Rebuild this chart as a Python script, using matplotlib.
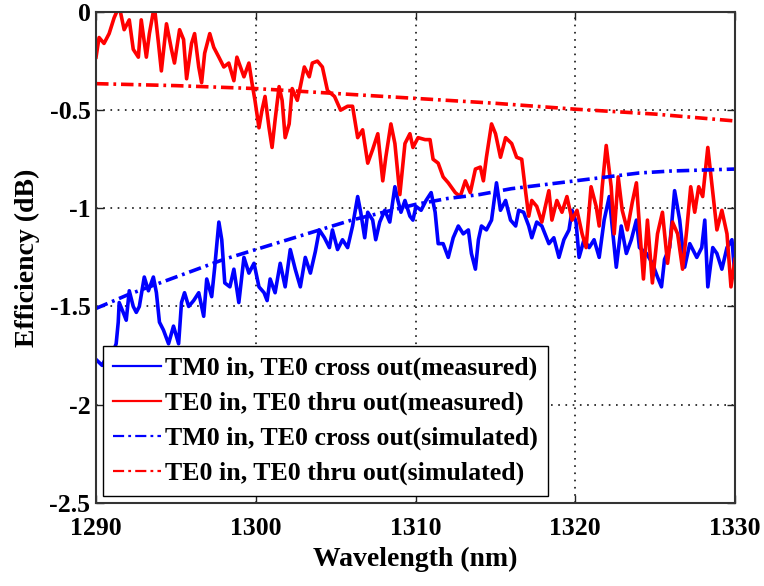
import numpy as np
import matplotlib
matplotlib.use('Agg')
import matplotlib.pyplot as plt

# measured, TE0 in -> TE0 thru out
wl_thru = [1290.0, 1290.19, 1290.5, 1290.82, 1291.13, 1291.45, 1291.76, 1292.08, 1292.33, 1292.65,
           1292.83, 1293.15, 1293.34, 1293.65, 1293.91, 1294.09, 1294.41, 1294.72, 1294.91, 1295.23,
           1295.48, 1295.67, 1295.98, 1296.17, 1296.43, 1296.61, 1296.8, 1297.12, 1297.37, 1297.69,
           1298.0, 1298.31, 1298.63, 1298.82, 1299.26, 1299.57, 1299.76, 1299.95, 1300.2, 1300.39,
           1300.58, 1300.83, 1301.02, 1301.21, 1301.46, 1301.65, 1301.84, 1302.09, 1302.28, 1302.6,
           1302.79, 1303.04, 1303.35, 1303.54, 1303.86, 1304.17, 1304.49, 1304.93, 1305.31, 1305.75,
           1306.06, 1306.38, 1306.69, 1307.01, 1307.32, 1307.64, 1307.95, 1308.14, 1308.46, 1308.71,
           1309.02, 1309.34, 1309.65, 1309.84, 1310.16, 1310.6, 1310.91, 1311.1, 1311.42, 1311.73,
           1312.05, 1312.49, 1312.8, 1313.12, 1313.43, 1313.75, 1314.06, 1314.25, 1314.44, 1314.76,
           1315.01, 1315.32, 1315.64, 1316.02, 1316.33, 1316.65, 1316.9, 1317.09, 1317.28, 1317.59,
           1317.91, 1318.35, 1318.54, 1318.85, 1319.17, 1319.48, 1319.8, 1320.11, 1320.43, 1320.68,
           1320.99, 1321.31, 1321.5, 1321.69, 1321.94, 1322.25, 1322.44, 1322.69, 1322.94, 1323.26,
           1323.57, 1323.83, 1324.02, 1324.27, 1324.52, 1324.83, 1325.15, 1325.46, 1325.78, 1326.09,
           1326.41, 1326.72, 1326.98, 1327.23, 1327.48, 1327.73, 1327.98, 1328.3, 1328.61, 1328.87,
           1329.18, 1329.5, 1329.75, 1330.0]
eff_thru = [-0.23, -0.13, -0.16, -0.11, -0.03, 0.03, -0.09, -0.04, -0.19, -0.23,
            -0.04, -0.23, -0.11, 0.03, -0.16, -0.30, -0.06, -0.19, -0.26, -0.09,
            -0.14, -0.34, -0.16, -0.11, -0.28, -0.36, -0.21, -0.11, -0.18, -0.23,
            -0.28, -0.26, -0.35, -0.23, -0.33, -0.26, -0.36, -0.45, -0.59, -0.50,
            -0.43, -0.59, -0.69, -0.55, -0.38, -0.45, -0.64, -0.57, -0.39, -0.45,
            -0.38, -0.28, -0.33, -0.26, -0.25, -0.28, -0.40, -0.43, -0.50, -0.48,
            -0.48, -0.64, -0.60, -0.77, -0.70, -0.62, -0.86, -0.74, -0.57, -0.67,
            -0.93, -0.67, -0.62, -0.69, -0.64, -0.65, -0.65, -0.75, -0.77, -0.84,
            -0.87, -0.92, -0.94, -0.86, -0.92, -0.80, -0.79, -0.86, -0.74, -0.57,
            -0.62, -0.74, -0.64, -0.67, -0.74, -0.75, -0.92, -1.04, -0.96, -0.99,
            -1.07, -0.91, -1.06, -0.96, -1.02, -0.94, -1.06, -1.01, -1.13, -1.20,
            -0.89, -0.99, -1.09, -0.89, -0.68, -0.89, -1.13, -0.84, -1.01, -1.11,
            -0.97, -0.87, -1.09, -1.36, -1.06, -1.38, -1.13, -1.02, -1.28, -1.07,
            -1.13, -1.31, -1.11, -0.89, -1.02, -0.89, -0.94, -0.69, -0.92, -1.11,
            -1.01, -1.13, -1.40, -1.26]

# measured, TM0 in -> TE0 cross out
wl_cross = [1290.0, 1290.38, 1290.76, 1291.07, 1291.26, 1291.39, 1291.45, 1291.7, 1291.89, 1292.08,
            1292.33, 1292.52, 1292.71, 1293.02, 1293.28, 1293.59, 1293.78, 1293.97, 1294.22, 1294.54,
            1294.85, 1295.17, 1295.35, 1295.54, 1295.8, 1296.11, 1296.43, 1296.74, 1296.93, 1297.24,
            1297.43, 1297.69, 1297.87, 1298.06, 1298.38, 1298.63, 1298.94, 1299.26, 1299.57, 1299.89,
            1300.2, 1300.52, 1300.71, 1300.9, 1301.21, 1301.53, 1301.84, 1302.16, 1302.47, 1302.79,
            1303.1, 1303.42, 1303.73, 1303.98, 1304.3, 1304.61, 1304.8, 1305.12, 1305.43, 1305.75,
            1306.06, 1306.38, 1306.57, 1306.82, 1307.01, 1307.32, 1307.51, 1307.76, 1308.08, 1308.39,
            1308.71, 1308.9, 1309.09, 1309.34, 1309.65, 1309.84, 1310.03, 1310.35, 1310.66, 1310.98,
            1311.23, 1311.42, 1311.73, 1312.05, 1312.36, 1312.68, 1312.99, 1313.31, 1313.5, 1313.75,
            1313.94, 1314.13, 1314.44, 1314.76, 1315.07, 1315.32, 1315.64, 1315.95, 1316.27, 1316.46,
            1316.77, 1317.09, 1317.28, 1317.59, 1317.91, 1318.35, 1318.66, 1318.98, 1319.29, 1319.61,
            1319.8, 1320.05, 1320.24, 1320.55, 1320.87, 1321.18, 1321.5, 1321.81, 1322.13, 1322.31,
            1322.57, 1322.88, 1323.2, 1323.51, 1323.83, 1324.02, 1324.46, 1324.83, 1325.15, 1325.4,
            1325.59, 1325.91, 1326.22, 1326.54, 1326.85, 1327.17, 1327.61, 1327.92, 1328.11, 1328.3,
            1328.61, 1328.87, 1329.18, 1329.5, 1329.81, 1330.0]
eff_cross = [-1.77, -1.80, -1.74, -1.73, -1.69, -1.58, -1.48, -1.53, -1.57, -1.42,
             -1.50, -1.53, -1.50, -1.35, -1.42, -1.35, -1.43, -1.58, -1.62, -1.69,
             -1.60, -1.69, -1.48, -1.43, -1.50, -1.47, -1.43, -1.55, -1.36, -1.45,
             -1.30, -1.07, -1.16, -1.38, -1.40, -1.31, -1.48, -1.25, -1.33, -1.28,
             -1.40, -1.43, -1.47, -1.36, -1.43, -1.28, -1.40, -1.21, -1.31, -1.40,
             -1.25, -1.33, -1.22, -1.11, -1.15, -1.20, -1.11, -1.21, -1.16, -1.20,
             -1.09, -0.94, -1.02, -1.15, -1.02, -1.06, -1.16, -1.07, -1.01, -1.07,
             -0.89, -0.96, -1.02, -0.96, -1.04, -1.06, -0.99, -1.01, -0.96, -0.92,
             -1.02, -1.18, -1.18, -1.25, -1.15, -1.09, -1.13, -1.11, -1.23, -1.31,
             -1.16, -1.09, -1.11, -1.06, -0.87, -1.01, -0.96, -1.06, -1.09, -1.01,
             -1.02, -1.09, -1.15, -1.07, -1.09, -1.18, -1.15, -1.25, -1.16, -1.11,
             -1.01, -1.07, -1.25, -1.16, -1.20, -1.16, -1.25, -1.06, -0.94, -1.09,
             -1.30, -1.09, -1.23, -1.16, -1.06, -1.20, -1.23, -1.28, -1.35, -1.40,
             -1.26, -1.20, -0.91, -1.06, -1.30, -1.18, -1.25, -1.20, -1.06, -1.40,
             -1.20, -1.23, -1.31, -1.20, -1.16, -1.35]

# simulated curves
wl_sim_cross = [1290, 1292, 1294, 1296, 1298, 1300, 1302, 1304, 1306, 1308, 1310,
                1312, 1314, 1316, 1318, 1320, 1322, 1324, 1326, 1328, 1330]
eff_sim_cross = [-1.51, -1.44, -1.38, -1.32, -1.26, -1.21, -1.16, -1.11, -1.06, -1.02, -0.98,
                 -0.95, -0.93, -0.90, -0.88, -0.86, -0.84, -0.82, -0.81, -0.805, -0.80]
wl_sim_thru = [1290, 1295, 1300, 1305, 1310, 1315, 1320, 1325, 1330]
eff_sim_thru = [-0.365, -0.375, -0.39, -0.415, -0.44, -0.465, -0.495, -0.52, -0.555]

labels = ['TM0 in, TE0 cross out(measured)',
          'TE0 in, TE0 thru out(measured)',
          'TM0 in, TE0 cross out(simulated)',
          'TE0 in, TE0 thru out(simulated)']
xticks = [1290, 1300, 1310, 1320, 1330]
yticks = [-2.5, -2, -1.5, -1, -0.5, 0]
ytick_labels = ['-2.5', '-2', '-1.5', '-1', '-0.5', '0']

plt.rcParams['font.family'] = ['Liberation Serif', 'DejaVu Serif']
plt.rcParams['font.weight'] = 'bold'
plt.rcParams['lines.scale_dashes'] = False

fig = plt.figure(figsize=(7.64, 5.86), dpi=100)
ax = fig.add_axes([0.1257, 0.142, 0.8363, 0.8375])

dashdot = (0, (9, 3.5, 2, 3.5))
ax.plot(wl_cross, eff_cross, color='#0000ff', lw=2.6, label=labels[0])
ax.plot(wl_thru, eff_thru, color='#ff0000', lw=2.6, label=labels[1])
ax.plot(wl_sim_cross, eff_sim_cross, color='#0000ff', lw=2.6, ls=dashdot, label=labels[2])
ax.plot(wl_sim_thru, eff_sim_thru, color='#ff0000', lw=2.6, ls=dashdot, label=labels[3])

ax.set_xlim(1290, 1330)
ax.set_ylim(-2.5, 0)
ax.set_xticks(xticks)
ax.set_xticklabels([str(t) for t in xticks])
ax.set_yticks(yticks)
ax.set_yticklabels(ytick_labels)
ax.tick_params(direction='in', length=6, width=1, top=True, right=True,
               labelsize=18.5, colors='#222222', labelcolor='black')
ax.tick_params(axis='x', pad=10)
ax.tick_params(axis='y', pad=4)
ax.grid(True, color='black', ls=(0, (1.2, 4)), lw=1.1)
for s in ax.spines.values():
    s.set_linewidth(1.5)
    s.set_color('#333333')

ax.set_xlabel('Wavelength (nm)', fontsize=20, fontweight='bold', labelpad=5)
ax.set_ylabel('Efficiency (dB)', fontsize=20, fontweight='bold', labelpad=7)

leg = ax.legend(loc='lower left', fontsize=18.6, frameon=True, fancybox=False,
                edgecolor='black', framealpha=1, handlelength=1.85, handletextpad=0.15,
                labelspacing=0.45, borderpad=0.4, borderaxespad=0.27)
leg.get_frame().set_linewidth(1.0)
for line in leg.get_lines():
    line.set_linewidth(1.6)
    if line.get_linestyle() != '-':
        line.set_dashes((8, 3, 2, 3))

fig.savefig('out.png', dpi=100)
